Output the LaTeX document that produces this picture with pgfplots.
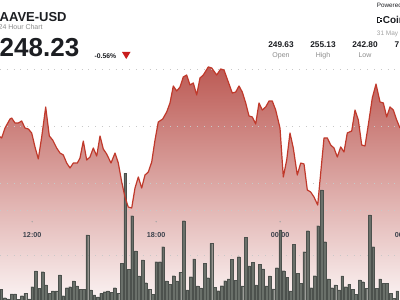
\documentclass[border=0pt]{standalone}
\usepackage{pgfplots}
\pgfplotsset{compat=1.18}
\usepackage{pgfplotstable}
\usepackage{fontspec}
\setmainfont{Liberation Sans}
\definecolor{linered}{RGB}{192,57,43}
\definecolor{filltop}{RGB}{188,90,84}
\definecolor{fillmid}{RGB}{236,205,203}
\definecolor{fillbot}{RGB}{251,243,243}
\definecolor{barfill}{RGB}{106,112,106}
\definecolor{baredge}{RGB}{76,81,77}
\definecolor{gridc}{RGB}{200,200,200}
\definecolor{darktext}{RGB}{28,30,34}
\definecolor{graytext}{RGB}{140,140,140}
\definecolor{ticktext}{RGB}{60,66,76}
\definecolor{downred}{RGB}{200,28,28}

% price: x = 10-minute slots since 12:00, y = USD
\pgfplotstableread{
s p
-9.35 249.06
-8.86 248.95
-7.90 249.82
-6.45 250.61
-5.95 250.70
-4.99 250.26
-4.04 250.26
-3.05 250.44
-2.09 249.82
-1.13 249.74
-0.15 249.39
0.81 248.16
1.77 247.11
2.76 249.04
3.92 251.67
4.97 249.12
5.95 248.77
7.11 248.07
8.07 247.63
9.03 247.46
10.02 246.75
10.98 246.32
11.93 246.75
13.10 246.75
13.88 247.19
14.84 248.68
15.82 247.02
16.78 247.28
17.74 248.07
18.73 247.37
19.69 249.12
20.64 247.98
21.63 247.54
22.88 246.75
24.04 247.63
25.00 246.75
25.99 245.09
26.94 243.77
27.90 242.89
28.89 242.81
29.85 244.56
30.81 245.53
31.79 244.56
32.75 245.70
33.71 245.96
34.70 246.84
35.66 248.77
36.61 250.35
37.89 250.61
39.05 251.23
40.01 252.02
40.97 253.51
41.96 253.07
42.92 253.42
43.87 254.30
44.86 254.47
45.82 253.60
46.78 253.77
47.76 252.72
48.72 254.21
49.68 254.47
51.13 255.18
52.12 255.09
53.57 254.47
54.73 255.00
55.69 254.91
56.94 253.86
58.10 252.89
59.09 252.98
60.05 253.51
61.00 252.98
61.99 252.02
62.95 250.88
63.91 250.79
64.89 250.18
65.85 252.02
66.81 251.40
67.80 251.67
68.76 252.19
69.71 252.19
70.70 251.40
71.95 249.82
72.91 245.53
73.90 247.02
74.85 249.39
75.81 248.07
76.97 245.70
77.96 246.75
78.92 246.67
79.88 244.39
80.86 244.21
81.82 243.77
82.90 243.07
83.77 245.88
84.73 248.95
85.69 248.95
86.67 248.33
87.63 248.07
88.59 247.28
89.58 248.16
90.53 247.72
91.49 249.39
92.77 249.56
93.73 251.40
94.69 250.53
95.68 248.33
96.63 248.25
97.59 250.09
98.75 252.46
99.83 253.68
100.99 252.11
101.95 252.02
102.93 250.79
103.89 251.67
104.85 251.40
105.83 250.53
106.79 249.82
}\pricetable

% volume per 10-minute slot (relative units)
\pgfplotstableread{
n v
-9 10.7
-8 2.3
-7 1
-6 6
-5 6
-4 0.5
-3 4.3
-2 6.7
-1 1
0 13.3
1 29
2 11.7
3 28.3
4 15
5 6.7
6 9
7 9
8 25
9 4.3
10 12.3
11 13.3
12 19
13 14
14 10.7
15 10.7
16 65
17 10
18 5
19 3
20 6.7
21 8.3
22 9
23 7.7
24 12.3
25 6.7
26 36.7
27 126.7
28 30.7
29 84.3
30 49
31 24
32 40
33 17.3
34 10.7
35 5.7
36 38.3
37 38.3
38 53.3
39 19
40 15.7
41 24.3
42 19
43 27.7
44 79.3
45 10
46 23.3
47 41
48 14
49 12
50 36.7
51 22.3
52 56.7
53 12.7
54 9.3
55 14.3
56 19.3
57 21
58 40.7
59 19.7
60 43.3
61 14
62 62.7
63 34
64 37.7
65 15
66 35.7
67 31
68 14
69 24
70 11
71 32.3
72 70
73 29.3
74 22.7
75 9
76 55.7
77 26.7
78 16.7
79 48.3
80 69.3
81 12.3
82 24.3
83 74.3
84 110
85 58.3
86 21
87 12.3
88 15
89 10
90 24
91 13.3
92 15.7
93 10.7
94 5.7
95 20
96 18.3
97 11.7
98 85
99 53.3
100 11.7
101 21
102 16.7
103 16.7
104 6.7
105 1.7
106 9
}\voltable

\pgfplotsset{
  base/.style={at={(0pt,0pt)}, anchor=south west, scale only axis,
    width=420pt, height=300pt, xmin=-9.35, xmax=112.6,
    axis line style={draw=none}, tick style={draw=none},
    major tick length=0pt},
  dotgrid/.style={major grid style={gridc, line width=0.8pt, dash pattern=on 0.9pt off 5.9pt}},
}

\begin{document}
\begin{tikzpicture}[x=1pt,y=1pt]
\useasboundingbox (0,0) rectangle (400,300);
\clip (0,0) rectangle (400,300);
\fill[white] (0,0) rectangle (400,300);

% price area
\begin{axis}[base, dotgrid, ymin=234.74, ymax=261.05,
  xtick=\empty, ytick={245,250,255}, yticklabels={}, ymajorgrids, axis on top]
\addplot[draw=none, top color=filltop, middle color=fillmid, bottom color=fillbot]
  table[x=s, y=p] {\pricetable} \closedcycle;
\end{axis}

% volume bars
\begin{axis}[base, dotgrid, ymin=0, ymax=300,
  ybar, bar width=0.8,
  ytick={45,90}, yticklabels={}, ymajorgrids,
  xtick={0,36,72,108}, xticklabels={12:00,18:00,00:00,06:00},
  xticklabel style={anchor=center, yshift=65pt, text=ticktext,
    font=\bfseries\fontsize{7.2}{8}\selectfont}]
\addplot[fill=barfill, draw=baredge, line width=0.3pt] table[x=n, y=v] {\voltable};
\addplot[only marks, mark=*, mark size=0.45pt, color=gray!70, forget plot]
  coordinates {(0,78.3) (36,78.3) (72,78.3) (108,78.3)};
\end{axis}

% price line
\begin{axis}[base, ymin=234.74, ymax=261.05, xtick=\empty, ytick=\empty]
\addplot[linered, line width=1.2pt, line join=round] table[x=s, y=p] {\pricetable};
\end{axis}

% header texts
\node[anchor=base west, inner sep=0, text=darktext, font=\bfseries\fontsize{13}{15}\selectfont] at (-0.5,278.3) {AAVE-USD};
\node[anchor=base west, inner sep=0, text=graytext, font=\fontsize{7}{8}\selectfont] at (-1.5,270.5) {24 Hour Chart};
\node[anchor=base west, inner sep=0, text=darktext, font=\bfseries\fontsize{26}{30}\selectfont] at (-0.5,243.3) {248.23};
\node[anchor=base west, inner sep=0, text=darktext, font=\bfseries\fontsize{6.8}{8}\selectfont] at (94.5,241.8) {-0.56\%};
\fill[downred] (122,248) -- (130.5,248) -- (126.25,241) -- cycle;

% stats
\foreach \cx/\val/\lab in {281/249.63/Open, 323/255.13/High, 365/242.80/Low}{
  \node[anchor=base, inner sep=0, text=darktext, font=\bfseries\fontsize{8.3}{9}\selectfont] at (\cx,252.7) {\val};
  \node[anchor=base, inner sep=0, text=graytext, font=\fontsize{7}{8}\selectfont] at (\cx,242.7) {\lab};
}
\node[anchor=base west, inner sep=0, text=darktext, font=\bfseries\fontsize{8.3}{9}\selectfont] at (394.3,252.7) {7};

% powered by
\node[anchor=base west, inner sep=0, text=darktext, font=\fontsize{6.3}{7}\selectfont] at (376.7,292.6) {Powered by};
\begin{scope}[darktext]
  \fill (376.7,283.0) rectangle (378.0,276.7);
  \fill (378.0,283.0) rectangle (379.6,281.7);
  \fill (378.0,278.0) rectangle (379.6,276.7);
  \fill (380.4,282.2) rectangle (381.5,281.1);
  \fill (380.4,278.6) rectangle (381.5,277.5);
  \fill (380.4,280.4) rectangle (381.5,279.4);
\end{scope}
\node[anchor=base west, inner sep=0, text=darktext, font=\bfseries\fontsize{10}{11}\selectfont] at (382.6,276.2) {CoinDesk};
\node[anchor=base west, inner sep=0, text=graytext!80, font=\fontsize{6.5}{7}\selectfont] at (376.7,264.3) {31 May};
\end{tikzpicture}
\end{document}
